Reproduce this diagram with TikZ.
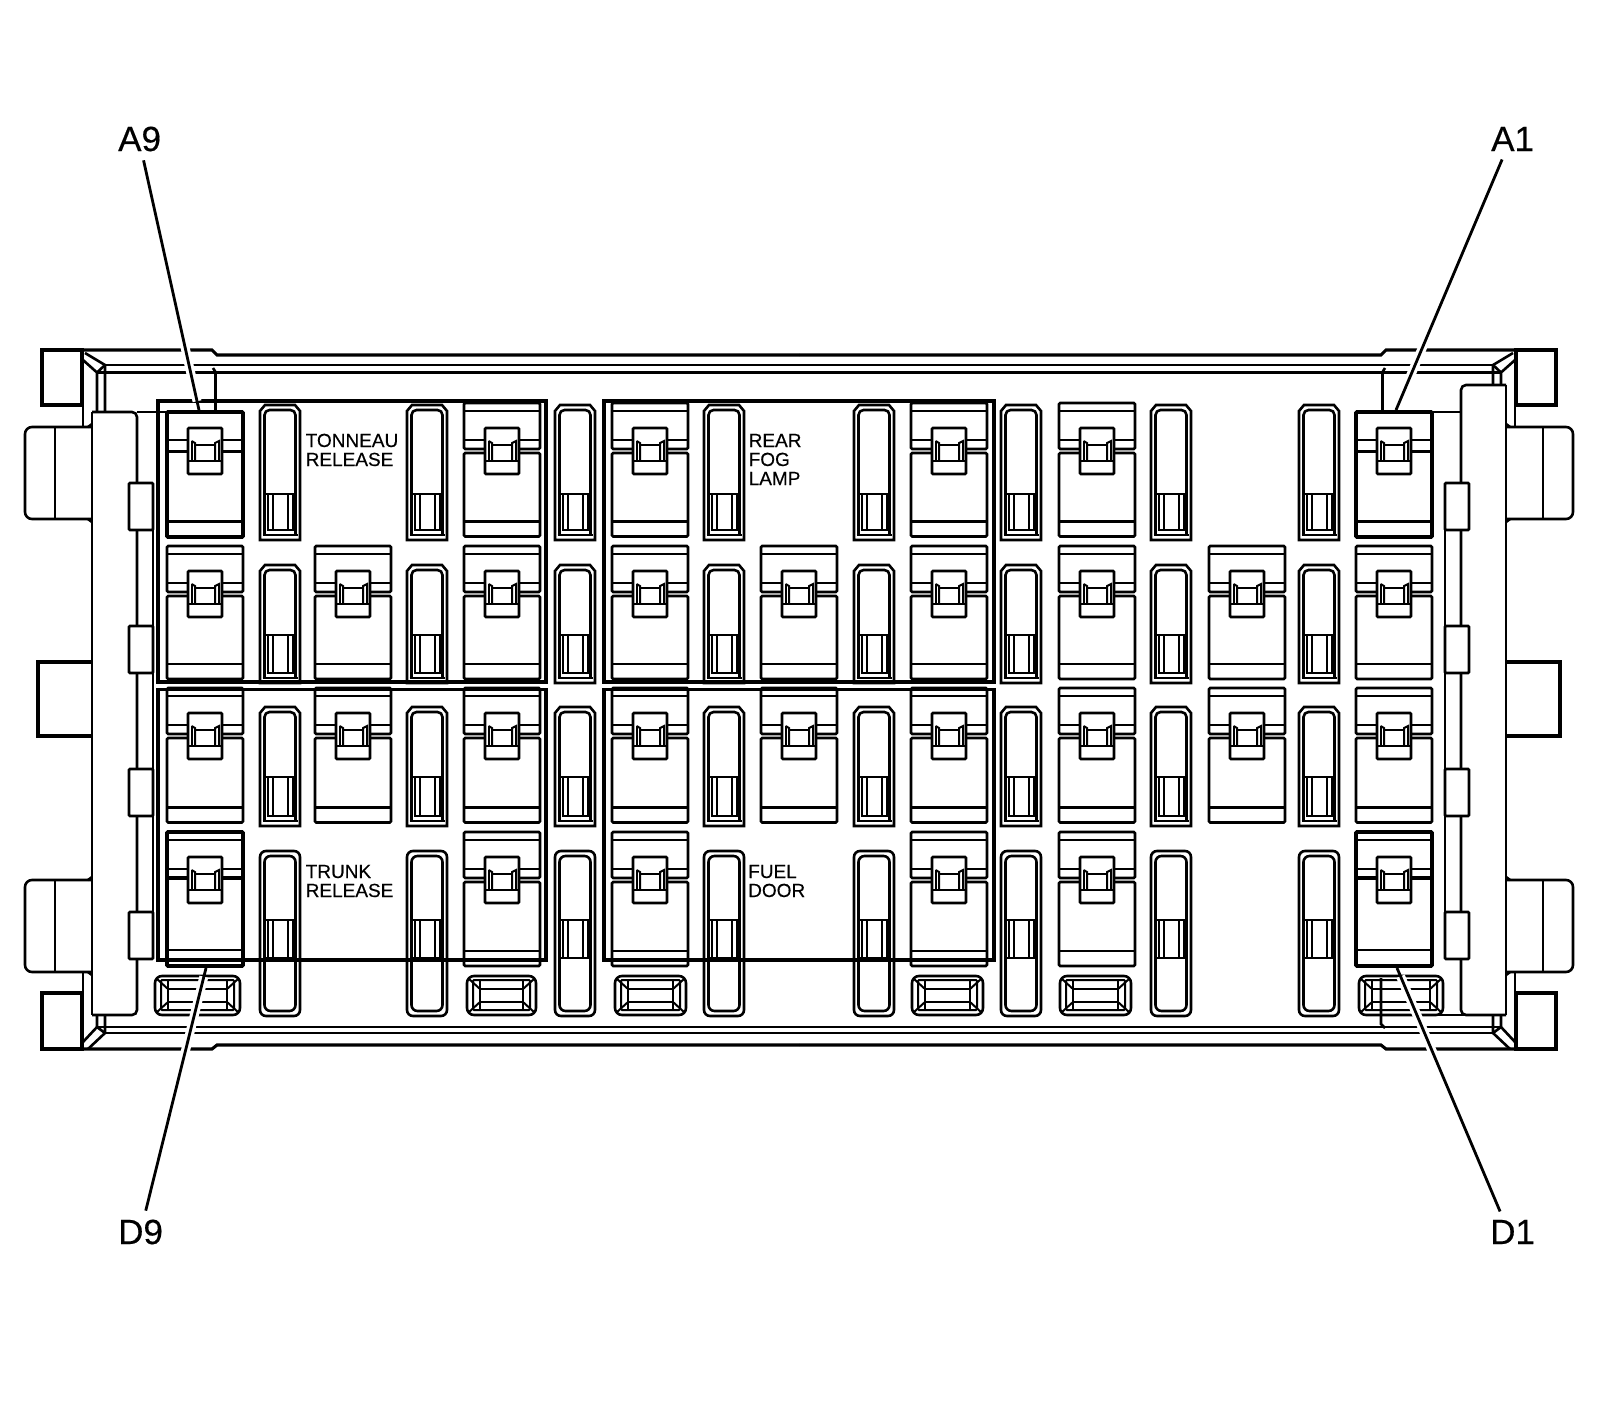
\documentclass[tikz,border=0pt]{standalone}
\usepackage{fontspec}
\setmainfont{Liberation Sans}
\newfontfamily\lblfont[FakeBold=0.35]{Liberation Sans}
\tikzset{
  ln/.style={draw=black,line width=2.6pt,line cap=butt,line join=miter},
  rail/.style={ln,line width=3.1pt},
  heavy/.style={ln,line width=3.8pt},
  grp/.style={ln,line width=3.8pt},
  thin line/.style={ln,line width=2pt},
  leader/.style={draw=black,line width=2.8pt},
  halo/.style={draw=white,line width=9pt},
  small label/.style={anchor=base west,inner sep=0pt,font=\lblfont\fontsize{19}{19}\selectfont},
  pin label/.style={anchor=base west,inner sep=0pt,font=\lblfont\fontsize{35}{35}\selectfont},
}
\newcommand{\clipmark}[2]{%
  \draw[ln,fill=white,rounded corners=1pt] (#1+21,#2) rectangle (#1+55,#2+46);
  \draw[thin line] (#1+21,#2+33) -- (#1+55,#2+33);
  \draw[thin line] (#1+24.5,#2+13) -- (#1+24.5,#2+33);
  \draw[thin line] (#1+24.5,#2+13) -- (#1+28,#2+15) -- (#1+28,#2+33);
  \draw[thin line] (#1+28,#2+17) -- (#1+48,#2+17);
  \draw[thin line] (#1+48,#2+33) -- (#1+48,#2+15) -- (#1+52,#2+13) -- (#1+52,#2+33);
}
% left, clip top, top, bottom
\newcommand{\relay}[4]{%
  \draw[ln,rounded corners=1.2pt] (#1,#3) rectangle (#1+76,#2+21);
  \draw[ln,rounded corners=1.2pt] (#1,#2+25) rectangle (#1+76,#4);
  \draw[ln] (#1,#3+8) -- (#1+76,#3+8);
  \draw[ln] (#1,#2+12) -- (#1+76,#2+12);
  \draw[ln] (#1,#4-15) -- (#1+76,#4-15);
  \clipmark{#1}{#2}
}
\newcommand{\relayA}[1]{%
  \draw[ln] (#1,440) -- (#1+76,440);
  \draw[ln] (#1,451.5) -- (#1+76,451.5);
  \draw[ln] (#1,521.5) -- (#1+76,521.5);
  \draw[heavy,rounded corners=1pt] (#1,412) rectangle (#1+76,537);
  \clipmark{#1}{428}
}
\newcommand{\relayD}[1]{%
  \draw[ln] (#1,840) -- (#1+76,840);
  \draw[ln] (#1,869) -- (#1+76,869);
  \draw[ln,line width=4.4pt] (#1,878) -- (#1+76,878);
  \draw[ln] (#1,950) -- (#1+76,950);
  \draw[heavy,rounded corners=1pt] (#1,832) rectangle (#1+76,966);
  \clipmark{#1}{857}
}
% left, top, section top, bottom
\newcommand{\slotup}[4]{%
  \draw[ln,fill=white] (#1,#4) -- (#1,#2+6) -- (#1+5,#2) -- (#1+35,#2) -- (#1+40,#2+6) -- (#1+40,#4) -- cycle;
  \draw[ln,rounded corners=5pt] (#1+4.5,#4-5) -- (#1+4.5,#2+5) -- (#1+35.5,#2+5) -- (#1+35.5,#4-5);
  \draw[thin line] (#1+2.5,#4-5) -- (#1+37.5,#4-5);
  \draw[ln] (#1+4.5,#3) -- (#1+35.5,#3);
  \draw[thin line] (#1+8,#3) -- (#1+8,#4-10) -- (#1+32.5,#4-10) -- (#1+32.5,#3);
  \draw[thin line] (#1+13,#3) -- (#1+13,#4-10);
  \draw[thin line] (#1+28,#3) -- (#1+28,#4-10);
}
\newcommand{\slotlong}[1]{%
  \draw[ln,fill=white,rounded corners=6pt] (#1,851) rectangle (#1+40,1016);
  \draw[ln,rounded corners=6pt] (#1+4.5,856) rectangle (#1+35.5,1011);
  \draw[ln] (#1+4.5,920) -- (#1+35.5,920);
  \draw[ln] (#1+4.5,958) -- (#1+35.5,958);
  \draw[thin line] (#1+8,920) -- (#1+8,958);
  \draw[thin line] (#1+13,920) -- (#1+13,958);
  \draw[thin line] (#1+28,920) -- (#1+28,958);
  \draw[thin line] (#1+32.5,920) -- (#1+32.5,958);
}
\newcommand{\vent}[2]{%
  \draw[ln,rounded corners=7pt] (#1,976) rectangle (#2,1015);
  \draw[thin line,rounded corners=1pt] (#1+6,980) rectangle (#2-6,1010);
  \draw[thin line] (#1+13,980) -- (#1+13,1010);
  \draw[thin line] (#2-13,980) -- (#2-13,1010);
  \draw[thin line] (#1+13,989) -- (#2-13,989);
  \draw[thin line] (#1+13,1002) -- (#2-13,1002);
  \draw[thin line] (#1+2,979) -- (#1+13,989);
  \draw[thin line] (#2-2,979) -- (#2-13,989);
  \draw[thin line] (#1+2,1012) -- (#1+13,1002);
  \draw[thin line] (#2-2,1012) -- (#2-13,1002);
}
% half of the housing, #1 = top of the side panel
\newcommand{\halfframe}[1]{%
  \draw[rail] (42,350) rectangle (82,405);
  \draw[rail] (42,993) rectangle (82,1049);
  \draw[rail] (82,350) -- (212,350) -- (217,355) -- (799,355);
  \draw[rail] (82,1049) -- (212,1049) -- (217,1045) -- (799,1045);
  \draw[ln] (105,365) -- (799,365);
  \draw[ln] (97,372.5) -- (799,372.5);
  \draw[ln] (105,1027) -- (799,1027);
  \draw[ln] (105,1033) -- (799,1033);
  \draw[ln] (85,353) -- (105,365) -- (105,#1);
  \draw[ln] (83,360) -- (97,372.5) -- (97,#1);
  \draw[ln] (105,365) -- (97,372.5);
  \draw[ln] (83,1042) -- (97,1027) -- (97,1015);
  \draw[ln] (88,1049) -- (105,1033) -- (105,1015);
  \draw[ln] (97,1027) -- (105,1027);
  \draw[ln] (97,1027) -- (105,1033);
  \draw[ln] (213,368) -- (215.5,372) -- (215.5,412);
  \draw[ln] (83,405) -- (83,427);
  \draw[ln] (83,972) -- (83,993);
  \draw[ln] (92,#1) -- (92,1015);
  \draw[ln,rounded corners=5pt] (92,#1) -- (137,#1) -- (137,1015) -- (92,1015);
  \draw[ln] (137,412) -- (167,412);
  \draw[ln] (153,483) -- (153,959);
  \draw[ln,rounded corners=7pt] (92,427) -- (25,427) -- (25,519) -- (92,519);
  \draw[ln] (92,424) -- (88,427);
  \draw[ln] (88,519) -- (92,522);
  \draw[ln] (55,427) -- (55,519);
  \draw[ln,rounded corners=7pt] (92,880) -- (25,880) -- (25,972) -- (92,972);
  \draw[ln] (92,877) -- (88,880);
  \draw[ln] (88,972) -- (92,975);
  \draw[ln] (55,880) -- (55,972);
  \draw[rail] (92,662) -- (38,662) -- (38,736) -- (92,736);
  \foreach \t/\b in {483/530,626/673,769/816,912/959}
    \draw[ln,fill=white,rounded corners=1pt] (129,\t) rectangle (153,\b);
}
\begin{document}
\begin{tikzpicture}[x=1pt,y=-1pt]
\useasboundingbox (0,0) rectangle (1600,1418);
\halfframe{412}
\begin{scope}[shift={(1598,0)},xscale=-1]
\halfframe{385}
\end{scope}
% extra lines at the lower right
\draw[ln] (1381,978) -- (1381,1024) -- (1385,1028);
\draw[ln] (1381,1015) -- (1506,1015);
% relays
\foreach \l in {464,612,911,1059} {\relay{\l}{428}{403}{536.5}}
\foreach \l in {167,315,464,612,761,911,1059,1209,1356} {\relay{\l}{571}{546}{679}}
\foreach \l in {167,315,464,612,761,911,1059,1209,1356} {\relay{\l}{713}{688}{822.5}}
\foreach \l in {464,612,911,1059} {\relay{\l}{857}{832}{966}}
\relayA{167}\relayA{1356}
\relayD{167}\relayD{1356}
% slots
\foreach \x in {260,407,555,704,854,1001,1151,1299} {
  \slotup{\x}{405}{494}{540}
  \slotup{\x}{565}{635}{683}
  \slotup{\x}{707}{777}{826}
  \slotlong{\x}
}
% vents
\vent{155}{240}
\vent{467}{536}
\vent{615}{686}
\vent{912}{983}
\vent{1060}{1131}
\vent{1359}{1443}
% groups
\draw[grp] (158,401) rectangle (546,682);
\draw[grp] (604,401) rectangle (994,682);
\draw[grp] (158,689.5) rectangle (546,960);
\draw[grp] (604,689.5) rectangle (994,960);
% labels
\node[small label] (t1) at (305.5,447) {TONNEAU};
\node[small label] (t2) at (305.5,466) {RELEASE};
\node[small label] (t3) at (748.5,447) {REAR};
\node[small label] (t4) at (748.5,466) {FOG};
\node[small label] (t5) at (748.5,485) {LAMP};
\node[small label] (t6) at (305.5,878) {TRUNK};
\node[small label] (t7) at (305.5,897) {RELEASE};
\node[small label] (t8) at (748,878) {FUEL};
\node[small label] (t9) at (748,897) {DOOR};
\node[pin label] (lA9) at (118,151) {A9};
\node[pin label] (lA1) at (1491,151) {A1};
\node[pin label] (lD9) at (118,1244) {D9};
\node[pin label] (lD1) at (1490,1244) {D1};
% leaders
\coordinate (tA9) at (199,410);
\coordinate (tA1) at (1396,410);
\coordinate (tD9) at (206,968);
\coordinate (tD1) at (1397,968);
\draw[halo,shorten <=15pt,shorten >=9pt] ([xshift=2pt]lA9.south) -- (tA9);
\draw[halo,shorten <=15pt,shorten >=9pt] ([xshift=-7pt]lA1.south) -- (tA1);
\draw[halo,shorten <=15pt,shorten >=9pt] ([xshift=3pt]lD9.north) -- (tD9);
\draw[halo,shorten <=15pt,shorten >=9pt] ([xshift=-9pt]lD1.north) -- (tD1);
\draw[leader,shorten <=9pt] ([xshift=2pt]lA9.south) -- (tA9);
\draw[leader,shorten <=9pt] ([xshift=-7pt]lA1.south) -- (tA1);
\draw[leader,shorten <=9pt] ([xshift=3pt]lD9.north) -- (tD9);
\draw[leader,shorten <=9pt] ([xshift=-9pt]lD1.north) -- (tD1);
\end{tikzpicture}
\end{document}
